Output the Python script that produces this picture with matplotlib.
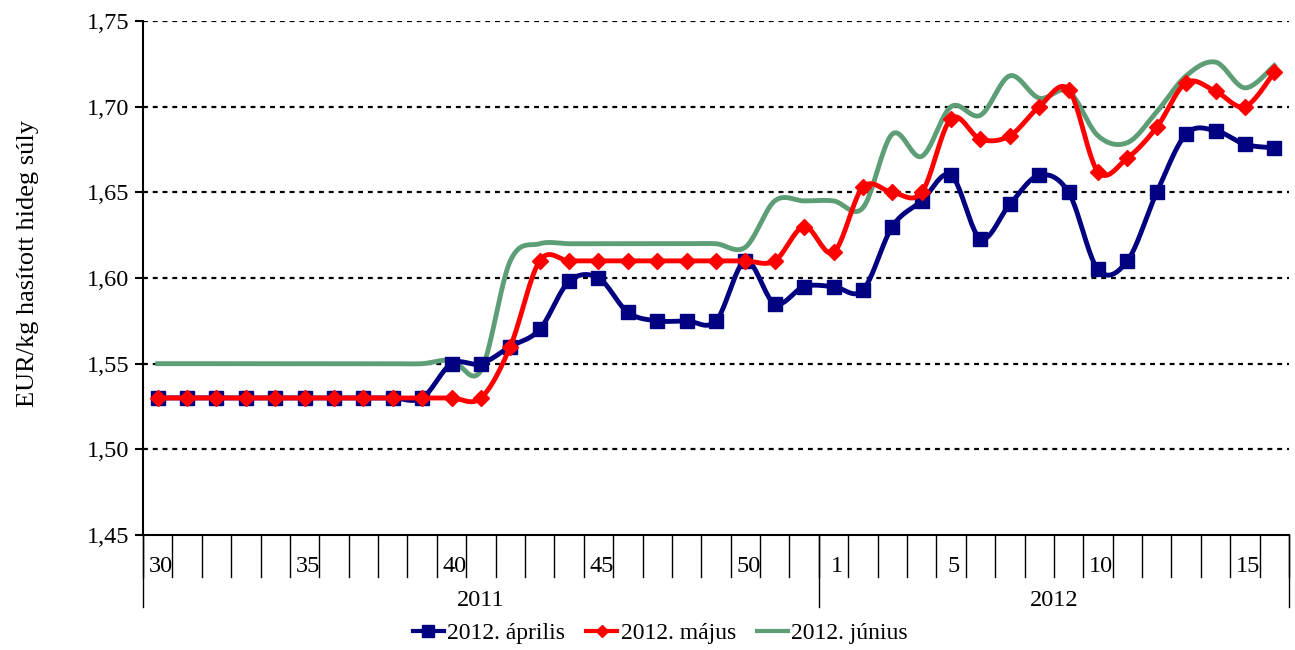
import numpy as np
import matplotlib.pyplot as plt
import matplotlib.transforms as mtransforms
from matplotlib.lines import Line2D

plt.rcParams['font.family'] = ['Liberation Serif', 'DejaVu Serif']

# weeks: 2011 week 30..52, 2012 week 1..16
weeks = ['30', '31', '32', '33', '34', '35', '36', '37', '38', '39', '40', '41',
         '42', '43', '44', '45', '46', '47', '48', '49', '50', '51', '52',
         '1', '2', '3', '4', '5', '6', '7', '8', '9', '10', '11', '12', '13',
         '14', '15', '16']
shown_weeks = ['30', '35', '40', '45', '50', '1', '5', '10', '15']
years = ['2011', '2012']
year_len = [23, 16]

aprilis = [1.53, 1.53, 1.53, 1.53, 1.53, 1.53, 1.53, 1.53, 1.53, 1.53,
           1.55, 1.55, 1.56, 1.57, 1.598, 1.60, 1.58, 1.575, 1.575, 1.575,
           1.61, 1.585, 1.595, 1.595, 1.593, 1.63, 1.645, 1.66, 1.623, 1.643,
           1.66, 1.65, 1.605, 1.61, 1.65, 1.684, 1.686, 1.678, 1.676]
majus = [1.53, 1.53, 1.53, 1.53, 1.53, 1.53, 1.53, 1.53, 1.53, 1.53,
         1.53, 1.53, 1.56, 1.61, 1.61, 1.61, 1.61, 1.61, 1.61, 1.61,
         1.61, 1.61, 1.63, 1.615, 1.653, 1.65, 1.65, 1.693, 1.681, 1.683,
         1.70, 1.71, 1.662, 1.67, 1.688, 1.714, 1.709, 1.70, 1.72]
junius = [1.55, 1.55, 1.55, 1.55, 1.55, 1.55, 1.55, 1.55, 1.55, 1.55,
          1.552, 1.546, 1.61, 1.62, 1.62, 1.62, 1.62, 1.62, 1.62, 1.62,
          1.618, 1.645, 1.645, 1.645, 1.641, 1.684, 1.671, 1.70, 1.695, 1.718,
          1.705, 1.709, 1.683, 1.679, 1.697, 1.718, 1.726, 1.711, 1.724]

series_names = ['2012. április', '2012. május', '2012. június']


def smooth(y, n=24):
    # Catmull-Rom style curve through the points (like Excel smoothed lines)
    y = np.asarray(y, dtype=float)
    x = np.arange(len(y), dtype=float)
    px = np.concatenate([[x[0]], x, [x[-1]]])
    py = np.concatenate([[y[0]], y, [y[-1]]])
    xs, ys = [], []
    t = np.linspace(0, 1, n)
    for i in range(1, len(px) - 2):
        p0, p1, p2, p3 = (np.array([px[j], py[j]]) for j in (i - 1, i, i + 1, i + 2))
        c1 = p1 + (p2 - p0) / 6
        c2 = p2 - (p3 - p1) / 6
        pts = (((1 - t) ** 3)[:, None] * p1 + (3 * (1 - t) ** 2 * t)[:, None] * c1
               + (3 * (1 - t) * t ** 2)[:, None] * c2 + (t ** 3)[:, None] * p2)
        xs.extend(pts[:, 0])
        ys.extend(pts[:, 1])
    return np.array(xs), np.array(ys)


fig = plt.figure(figsize=(12.95, 6.5), dpi=100)
ax = fig.add_axes([143 / 1295, 1 - 535 / 650, (1289 - 143) / 1295, 514 / 650])

x = np.arange(len(weeks))
blue, red, green = '#000080', '#FF0000', '#5E9E76'

sx, sy = smooth(junius)
ax.plot(sx, sy, color=green, lw=3.5, zorder=3)
sx, sy = smooth(aprilis)
ax.plot(sx, sy, color=blue, lw=3.5, zorder=4)
ax.plot(x, aprilis, ls='none', marker='s', ms=10, color=blue, zorder=4)
sx, sy = smooth(majus)
ax.plot(sx, sy, color=red, lw=3.5, zorder=5)
ax.plot(x, majus, ls='none', marker='D', ms=8, color=red, zorder=5)

ax.set_xlim(-0.5, len(weeks) - 0.5)
ax.set_ylim(1.45, 1.75)
yt = np.arange(1.45, 1.751, 0.05)
ax.set_yticks(yt)
ax.set_yticklabels([f'{v:.2f}'.replace('.', ',') for v in yt], fontsize=17.5)
ax.tick_params(axis='y', direction='out', length=6, width=1.5, pad=4)
ax.set_xticks([])
for v in yt[1:]:
    ax.axhline(v, color='black', lw=1.6, ls=(0, (2.2, 2.2)), zorder=1)

for s in ['top', 'right']:
    ax.spines[s].set_visible(False)
ax.spines['left'].set_linewidth(1.5)
ax.spines['bottom'].set_linewidth(1.5)

fig.text(28 / 1295, 1 - 264 / 650, 'EUR/kg hasított hideg súly', rotation=90,
         ha='center', va='center', fontsize=19)

# multi-level category axis
trans = mtransforms.blended_transform_factory(ax.transData, ax.transAxes)
h = 514.0
for b in np.arange(-0.5, len(weeks), 1.0):
    ax.plot([b, b], [0, -42 / h], color='black', lw=1.0, transform=trans, clip_on=False)
for i, w in enumerate(weeks):
    if w in shown_weeks:
        ax.text(i + 0.1, -32 / h, w, transform=trans, ha='center', va='center', fontsize=17.5)
start = -0.5
for yr, n in zip(years, year_len):
    ax.plot([start, start], [0, -72 / h], color='black', lw=1.0, transform=trans, clip_on=False)
    ax.text(start + n / 2, -66 / h, yr, transform=trans, ha='center', va='center', fontsize=17.5)
    start += n
ax.plot([start, start], [0, -72 / h], color='black', lw=1.0, transform=trans, clip_on=False)

handles = [Line2D([], [], color=blue, lw=3, marker='s', ms=8),
           Line2D([], [], color=red, lw=3, marker='D', ms=6),
           Line2D([], [], color=green, lw=3)]
fig.legend(handles, series_names, loc='center', bbox_to_anchor=(0.51, 0.026), ncol=3,
           frameon=False, fontsize=17, handlelength=1.3, handletextpad=0.15,
           columnspacing=0.9)

fig.savefig('out.png', dpi=100)
